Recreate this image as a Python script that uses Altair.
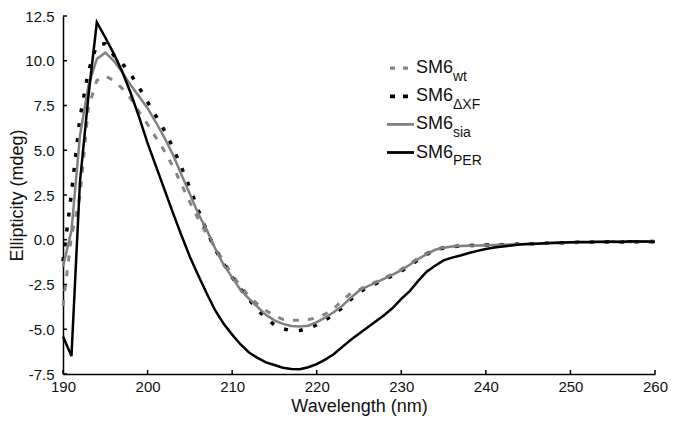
import altair as alt
import pandas as pd

wavelength = list(range(190, 261))

sm6_wt = [-3.7, 0.2, 2.4, 7.4, 8.9, 9.15, 8.9, 8.45, 7.9, 7.15,
          6.45, 5.7, 4.95, 4.1, 3.1, 2.1, 1.15, 0.3, -0.45, -1.2,
          -1.95, -2.6, -3.15, -3.6, -3.95, -4.25, -4.45, -4.5, -4.5, -4.45,
          -4.37, -4.15, -3.85, -3.4, -3.0, -2.8, -2.55, -2.35, -2.12, -1.9,
          -1.65, -1.35, -1.03, -0.75, -0.55, -0.44, -0.37, -0.34, -0.32, -0.3,
          -0.29, -0.28, -0.27, -0.25, -0.24, -0.23, -0.21, -0.2, -0.19, -0.17,
          -0.16, -0.15, -0.15, -0.13, -0.12, -0.12, -0.11, -0.15, -0.1, -0.12,
          -0.15]

sm6_dxf = [-1.2, 2.6, 6.8, 9.4, 10.9, 10.95, 10.3, 9.85, 9.25, 8.5,
           7.7, 6.9, 6.1, 5.15, 4.05, 2.9, 1.65, 0.5, -0.55, -1.35,
           -2.1, -2.75, -3.35, -3.9, -4.4, -4.75, -4.97, -5.08, -5.07, -4.95,
           -4.75, -4.5, -4.18, -3.8, -3.35, -2.95, -2.65, -2.45, -2.22, -2.0,
           -1.75, -1.45, -1.12, -0.82, -0.58, -0.46, -0.39, -0.35, -0.33, -0.31,
           -0.3, -0.29, -0.28, -0.26, -0.25, -0.23, -0.22, -0.2, -0.18, -0.17,
           -0.16, -0.14, -0.15, -0.13, -0.12, -0.11, -0.12, -0.1, -0.11, -0.1,
           -0.09]

sm6_sia = [-1.5, 0.5, 5.8, 8.6, 10.1, 10.45, 10.0, 9.35, 8.65, 8.0,
           7.35, 6.55, 5.7, 4.75, 3.65, 2.55, 1.45, 0.55, -0.5, -1.4,
           -2.1, -2.8, -3.3, -3.75, -4.2, -4.5, -4.7, -4.82, -4.85, -4.8,
           -4.6, -4.35, -4.05, -3.7, -3.25, -2.85, -2.6, -2.4, -2.17, -1.95,
           -1.7, -1.4, -1.08, -0.8, -0.56, -0.45, -0.38, -0.35, -0.33, -0.32,
           -0.31, -0.3, -0.28, -0.26, -0.25, -0.24, -0.22, -0.21, -0.19, -0.18,
           -0.16, -0.15, -0.14, -0.14, -0.12, -0.12, -0.11, -0.12, -0.1, -0.11,
           -0.1]

sm6_per = [-5.4, -6.5, 3.2, 8.0, 12.15, 11.3, 10.4, 9.4, 8.2, 6.85,
           5.4, 4.1, 2.8, 1.5, 0.25, -0.95, -2.0, -3.0, -3.95, -4.7,
           -5.3, -5.85, -6.3, -6.6, -6.85, -7.0, -7.15, -7.22, -7.23, -7.12,
           -6.95, -6.7, -6.4, -6.0, -5.6, -5.25, -4.9, -4.55, -4.2, -3.8,
           -3.3, -2.87, -2.3, -1.78, -1.45, -1.15, -1.0, -0.88, -0.74, -0.62,
           -0.52, -0.43, -0.38, -0.32, -0.27, -0.24, -0.22, -0.2, -0.17, -0.15,
           -0.14, -0.13, -0.12, -0.11, -0.11, -0.1, -0.12, -0.09, -0.1, -0.1,
           -0.11]

series_names = ["wt", "dXF", "sia", "PER"]
series_main = ["SM6", "SM6", "SM6", "SM6"]
series_sub = ["wt", "ΔXF", "sia", "PER"]
series_colors = ["#858585", "#000000", "#808080", "#000000"]
series_dash = [[6, 9], [4, 11], None, None]
legend_dash = [[5, 8], [5, 8], None, None]
series_width = [3, 3.5, 2.5, 2.5]

x_ticks = [190, 200, 210, 220, 230, 240, 250, 260]
y_ticks = [-7.5, -5.0, -2.5, 0.0, 2.5, 5.0, 7.5, 10.0, 12.5]

FONT = "Liberation Sans"
W, H = 592, 358
TOP = 8

values = sm6_wt + sm6_dxf + sm6_sia + sm6_per
df = pd.DataFrame({
    "wl": wavelength * 4,
    "val": values,
    "series": sum([[s] * len(wavelength) for s in series_names], []),
})

xs = alt.Scale(domain=[190, 260], nice=False, zero=False)
ys = alt.Scale(domain=[-7.5, 12.5], nice=False, zero=False)

xaxis = alt.Axis(values=x_ticks, format="d", grid=False, ticks=False, labelFlush=False,
                 domainColor="black", domainWidth=1.5,
                 labelFont=FONT, labelFontSize=15, labelColor="#111",
                 labelPadding=5, title="Wavelength (nm)", titleFont=FONT,
                 titleFontSize=18, titleFontWeight="normal", titleColor="#111",
                 titleY=37, titleBaseline="alphabetic")
yaxis = alt.Axis(values=y_ticks, grid=False, ticks=False, labelFlush=False,
                 labelExpr="datum.value < 0 ? '-' + format(-datum.value, '.1f') : format(datum.value, '.1f')",
                 domainColor="black", domainWidth=1.5,
                 labelFont=FONT, labelFontSize=15, labelColor="#111",
                 labelPadding=9, title="Ellipticity (mdeg)", titleFont=FONT,
                 titleFontSize=18, titleFontWeight="normal", titleColor="#111",
                 titleX=-46, titleY=H / 2, titleAngle=270,
                 titleAlign="center", titleBaseline="middle")

base = alt.Chart(df)
layers = []
for i, s in enumerate(series_names):
    kw = dict(color=series_colors[i], strokeWidth=series_width[i], strokeCap="butt")
    if series_dash[i]:
        kw["strokeDash"] = series_dash[i]
    layers.append(
        base.transform_filter(alt.datum.series == s).mark_line(**kw).encode(
            x=alt.X("wl:Q", scale=xs, axis=xaxis),
            y=alt.Y("val:Q", scale=ys, axis=yaxis),
        )
    )

ytick_layer = alt.Chart(pd.DataFrame({"wl": [190] * len(y_ticks), "val": y_ticks})).mark_rule(
    color="black", strokeWidth=1.5).encode(
    y=alt.Y("val:Q", scale=ys, axis=yaxis),
    x=alt.value(0), x2=alt.value(4),
)
xtick_layer = alt.Chart(pd.DataFrame({"wl": x_ticks})).mark_rule(color="black", strokeWidth=1.5).encode(
    x=alt.X("wl:Q", scale=xs, axis=xaxis),
    y=alt.value(H), y2=alt.value(H - 4),
)

# manual legend (SM6 with subscripts), positions in plot pixels
leg_df = pd.DataFrame({"series": series_names, "main": series_main, "sub": series_sub})
leg_base = alt.Chart(leg_df)
leg_layers = []
for i, s in enumerate(series_names):
    yc = 66.7 - (8 + TOP) + i * 28.1
    kw = dict(color=series_colors[i], strokeWidth=series_width[i] + 0.3, strokeCap="butt")
    if legend_dash[i]:
        kw["strokeDash"] = legend_dash[i]
        x0, x1 = 327, 345
    else:
        x0, x1 = 324, 351
    item = leg_base.transform_filter(alt.datum.series == s)
    leg_layers.append(item.mark_rule(**kw).encode(
        x=alt.value(x0), x2=alt.value(x1), y=alt.value(yc + 1.5)))
    leg_layers.append(item.mark_text(align="left", baseline="alphabetic", font=FONT,
                                     fontSize=18, color="#111").encode(
        x=alt.value(353), y=alt.value(yc + 6.5), text="main:N"))
    leg_layers.append(item.mark_text(align="left", baseline="alphabetic", font=FONT,
                                     fontSize=14, color="#111").encode(
        x=alt.value(390), y=alt.value(yc + 14), text="sub:N"))

chart = alt.layer(*layers, ytick_layer, xtick_layer, *leg_layers).properties(
    width=W, height=H,
    autosize=alt.AutoSizeParams(type="none"),
    padding={"left": 55, "top": TOP, "right": 14, "bottom": 43},
    background="white",
).configure_view(stroke=None)

chart.save("out.html", embed_options={"renderer": "svg", "actions": False})
